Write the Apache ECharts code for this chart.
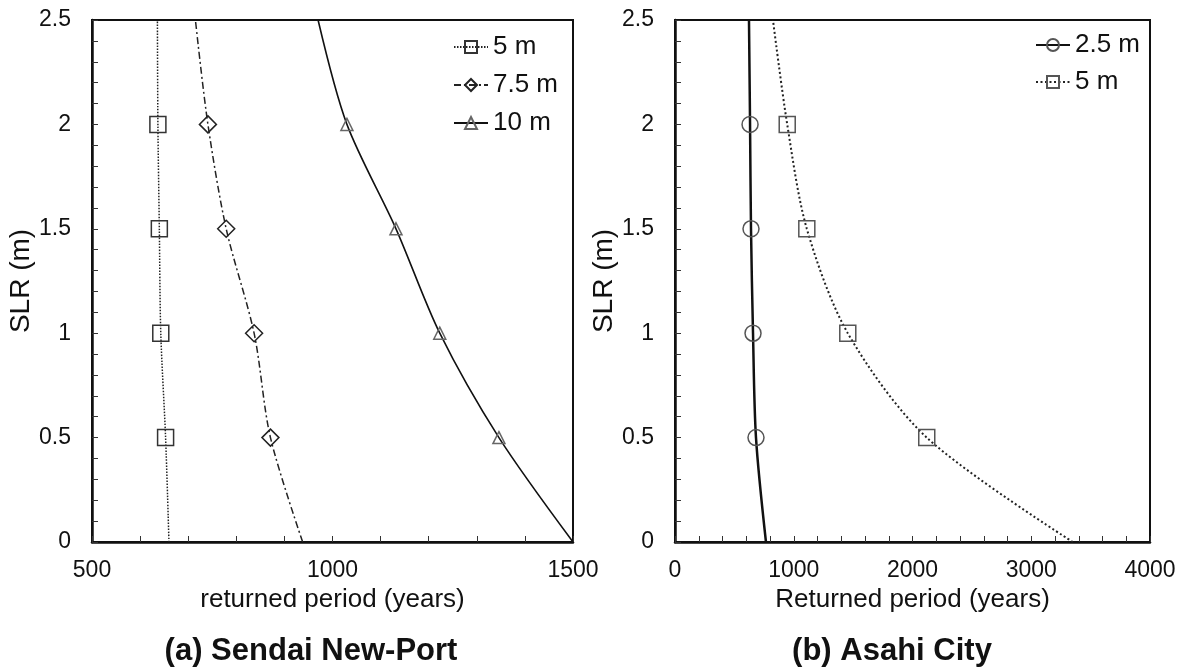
<!DOCTYPE html>
<html>
<head>
<meta charset="utf-8">
<script src="https://cdn.jsdelivr.net/npm/echarts@6/dist/echarts.min.js"></script>
<style>
html,body{margin:0;padding:0;background:#fff;}
#chart{width:1187px;height:672px;}
</style>
</head>
<body>
<div id="chart"></div>
<script>
// ---- data ----
const slrLevels = [0, 0.5, 1, 1.5, 2, 2.5];
// Sendai New-Port (returned period, years) at each SLR level
const sendai5m = [660, 653, 643, 640, 637, 636];
const sendai75m = [938, 871, 837, 779, 741, 715];
const sendai10m = [1500, 1346, 1223, 1132, 1030, 970];
// Asahi City
const asahi25m = [766, 682, 657, 640, 632, 623];
const asahi5m = [3350, 2120, 1455, 1110, 945, 825];
// SLR levels that carry a marker (others are curve end points only)
const markedLevels = [0.5, 1, 1.5, 2];

const sendaiNames = ['5 m', '7.5 m', '10 m'];
const asahiNames = ['2.5 m', '5 m '];
const xTicksSendai = [500, 1000, 1500];
const xTicksAsahi = [0, 1000, 2000, 3000, 4000];
const yTickLabels = [0, 0.5, 1, 1.5, 2, 2.5];

const FONT = '"Liberation Sans", Arial, sans-serif';

function buildData(xs) {
  return xs.map((x, i) => {
    const y = slrLevels[i];
    const item = { value: [x, y] };
    if (markedLevels.indexOf(y) < 0) item.symbol = 'none';
    return item;
  });
}

function yFmt(v) {
  for (const t of yTickLabels) if (Math.abs(v - t) < 1e-6) return String(t);
  return '';
}
function xFmt(list) {
  return function (v) {
    for (const t of list) if (Math.abs(v - t) < 1e-6) return String(t);
    return '';
  };
}

function series(name, xs, idx, symbol, size, lineStyle, markColor) {
  return {
    type: 'line',
    name: name,
    xAxisIndex: idx, yAxisIndex: idx,
    data: buildData(xs),
    smooth: 0.3,
    symbol: symbol,
    symbolSize: size,
    showAllSymbol: true,
    lineStyle: lineStyle,
    itemStyle: { color: 'rgba(255,255,255,0)', borderColor: markColor, borderWidth: 1.5 },
    emphasis: { disabled: true },
    animation: false,
    z: 3
  };
}

const axisCommon = {
  axisLine: { show: true, onZero: false, lineStyle: { color: '#111', width: 2.5 } },
  axisTick: { show: true, inside: true, length: 6, lineStyle: { color: '#333', width: 1 } },
  splitLine: { show: false },
  axisLabel: { color: '#111', fontSize: 23, fontFamily: FONT },
  nameTextStyle: { color: '#111', fontSize: 26, fontFamily: FONT }
};

const chart = echarts.init(document.getElementById('chart'), null, { renderer: 'canvas' });
chart.setOption({
  backgroundColor: '#fff',
  animation: false,
  title: [
    { text: '(a) Sendai New-Port', left: 311, top: 636, textAlign: 'center', padding: 0,
      textStyle: { fontSize: 31, fontWeight: 'bold', color: '#111', fontFamily: FONT } },
    { text: '(b) Asahi City', left: 892, top: 636, textAlign: 'center', padding: 0,
      textStyle: { fontSize: 31, fontWeight: 'bold', color: '#111', fontFamily: FONT } }
  ],
  grid: [
    { left: 92, top: 20, width: 481, height: 522, show: true, borderColor: '#111', borderWidth: 2, backgroundColor: 'transparent' },
    { left: 675, top: 20, width: 475, height: 522, show: true, borderColor: '#111', borderWidth: 2, backgroundColor: 'transparent' }
  ],
  xAxis: [
    Object.assign({}, axisCommon, {
      type: 'value', gridIndex: 0, min: 500, max: 1500, interval: 100,
      name: 'returned period (years)', nameLocation: 'middle', nameGap: 37,
      axisLabel: Object.assign({}, axisCommon.axisLabel, { formatter: xFmt(xTicksSendai), margin: 17 })
    }),
    Object.assign({}, axisCommon, {
      type: 'value', gridIndex: 1, min: 0, max: 4000, interval: 200,
      name: 'Returned period (years)', nameLocation: 'middle', nameGap: 37,
      axisLabel: Object.assign({}, axisCommon.axisLabel, { formatter: xFmt(xTicksAsahi), margin: 17 })
    })
  ],
  yAxis: [
    Object.assign({}, axisCommon, {
      type: 'value', gridIndex: 0, min: 0, max: 2.5, interval: 0.1,
      name: 'SLR (m)', nameLocation: 'middle', nameGap: 55, nameRotate: 90,
      nameTextStyle: { color: '#111', fontSize: 28, fontFamily: FONT },
      axisLabel: Object.assign({}, axisCommon.axisLabel, { formatter: yFmt, margin: 21 })
    }),
    Object.assign({}, axisCommon, {
      type: 'value', gridIndex: 1, min: 0, max: 2.5, interval: 0.1,
      name: 'SLR (m)', nameLocation: 'middle', nameGap: 55, nameRotate: 90,
      nameTextStyle: { color: '#111', fontSize: 28, fontFamily: FONT },
      axisLabel: Object.assign({}, axisCommon.axisLabel, { formatter: yFmt, margin: 21 })
    })
  ],
  legend: [
    { data: sendaiNames, orient: 'vertical', left: 453, top: 34, padding: 0, itemWidth: 34, itemHeight: 15, itemGap: 12,
      textStyle: { fontSize: 26, color: '#111', fontFamily: FONT }, selectedMode: false },
    { data: asahiNames, orient: 'vertical', left: 1035, top: 32, padding: 0, itemWidth: 34, itemHeight: 15, itemGap: 11,
      formatter: n => n.trim(),
      textStyle: { fontSize: 26, color: '#111', fontFamily: FONT }, selectedMode: false }
  ],
  series: [
    series(sendaiNames[0], sendai5m, 0, 'rect', 16, { color: '#222', width: 1.5, type: [1.5, 1.5] }, '#333'),
    series(sendaiNames[1], sendai75m, 0, 'diamond', 17, { color: '#222', width: 1.5, type: [7, 3, 2, 3] }, '#222'),
    series(sendaiNames[2], sendai10m, 0, 'triangle', 12, { color: '#111', width: 1.6, type: 'solid' }, '#666'),
    series(asahiNames[0], asahi25m, 1, 'circle', 16, { color: '#111', width: 2.5, type: 'solid' }, '#555'),
    series(asahiNames[1], asahi5m, 1, 'rect', 16, { color: '#222', width: 2, type: [2, 2.5] }, '#555')
  ]
});
</script>
</body>
</html>
